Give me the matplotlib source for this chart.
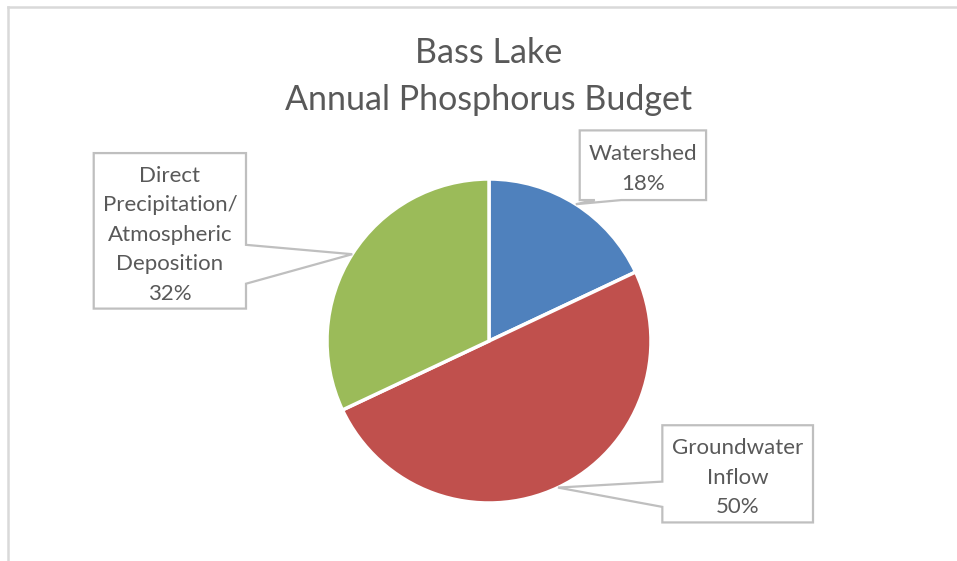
import numpy as np
import matplotlib.pyplot as plt
from matplotlib.patches import Polygon
from matplotlib.lines import Line2D

plt.rcParams['font.family'] = ['Lato', 'DejaVu Sans']

labels = ['Watershed', 'Groundwater\nInflow', 'Direct\nPrecipitation/\nAtmospheric\nDeposition']
shares = [18, 50, 32]
colors = ['#4F81BD', '#C0504D', '#9BBB59']

# callout boxes in pie units (radius 1): x0, x1, y0, y1, side the pointer leaves from
boxes = [
    (0.56, 1.34, 0.87, 1.30, 'bottom'),
    (1.07, 2.00, -1.12, -0.52, 'left'),
    (-2.44, -1.50, 0.20, 1.16, 'right'),
]
TXT = '#595959'
EDGE = '#BFBFBF'

W, H = 957, 561
cx, cy, R = 489, 341, 162   # pie centre and radius in pixels

fig = plt.figure(figsize=(W / 100, H / 100), dpi=100)
ax = fig.add_axes([0, 0, 1, 1])
wedges, _ = ax.pie(shares, colors=colors, startangle=90, counterclock=False,
                   wedgeprops=dict(edgecolor='white', linewidth=2.5))
ax.set_xlim(-cx / R, (W - cx) / R)
ax.set_ylim(-(H - cy) / R, cy / R)
ax.axis('off')

for w, lab, val, (x0, x1, y0, y1, side) in zip(wedges, labels, shares, boxes):
    mid = np.deg2rad((w.theta1 + w.theta2) / 2)
    tip = (np.cos(mid), np.sin(mid))
    if side == 'bottom':
        a, b = x0 + 0.12 * (x1 - x0), x0 + 0.33 * (x1 - x0)
        pts = [(x0, y0), (a, y0), tip, (b, y0), (x1, y0), (x1, y1), (x0, y1)]
    elif side == 'left':
        a, b = y0 + 0.16 * (y1 - y0), y0 + 0.42 * (y1 - y0)
        pts = [(x0, y0), (x1, y0), (x1, y1), (x0, y1), (x0, b), tip, (x0, a)]
    else:
        a, b = y0 + 0.16 * (y1 - y0), y0 + 0.41 * (y1 - y0)
        pts = [(x0, y0), (x1, y0), (x1, a), tip, (x1, b), (x1, y1), (x0, y1)]
    ax.add_patch(Polygon(pts, closed=True, facecolor='white', edgecolor=EDGE,
                         linewidth=1.6, zorder=3))
    # text sits a little below the box centre
    ax.text((x0 + x1) / 2, (y0 + y1) / 2 - 0.025, f'{lab}\n{val}%', ha='center',
            va='center', fontsize=16, color=TXT, linespacing=1.6, zorder=4)

fig.text(cx / W, 1 - 76.5 / H, 'Bass Lake\nAnnual Phosphorus Budget', ha='center',
         va='center', fontsize=24.5, color=TXT, linespacing=1.55)

# chart area border (left and top)
fig.add_artist(Line2D([8 / W, 8 / W], [0, 1 - 7 / H], color='#D9D9D9', linewidth=1.8))
fig.add_artist(Line2D([8 / W, 1], [1 - 7 / H, 1 - 7 / H], color='#D9D9D9', linewidth=1.8))

fig.savefig('out.png', dpi=100, facecolor='white')
